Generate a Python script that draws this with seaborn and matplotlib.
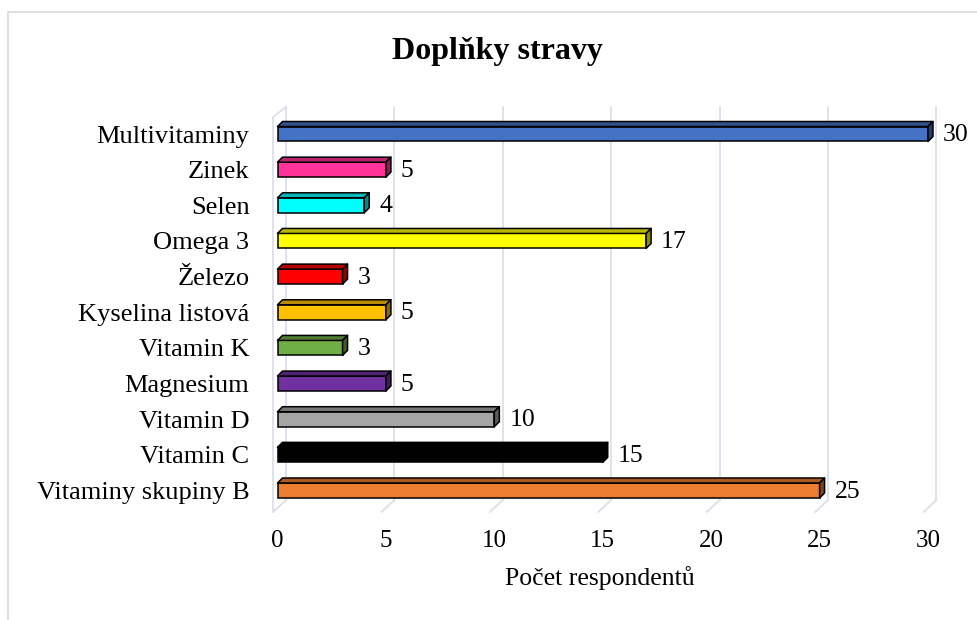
import numpy as np
import pandas as pd
import matplotlib
matplotlib.use("Agg")
import matplotlib.pyplot as plt
from matplotlib.patches import Polygon, Rectangle
from matplotlib.colors import to_rgb
import seaborn as sns

# Supplement survey data (top to bottom)
categories = ["Multivitaminy", "Zinek", "Selen", "Omega 3", "Železo",
              "Kyselina listová", "Vitamin K", "Magnesium", "Vitamin D",
              "Vitamin C", "Vitaminy skupiny B"]
values = [30, 5, 4, 17, 3, 5, 3, 5, 10, 15, 25]
colors = ["#4472C4", "#FF3399", "#00FFFF", "#FFFF00", "#FF0000",
          "#FFC000", "#70AD47", "#7030A0", "#A5A5A5", "#000000", "#ED7D31"]
x_ticks = [0, 5, 10, 15, 20, 25, 30]

sns.set_theme(style="white")
plt.rcParams["font.family"] = ["Liberation Serif", "DejaVu Serif"]
plt.rcParams["text.color"] = "black"
plt.rcParams["xtick.color"] = "black"
plt.rcParams["ytick.color"] = "black"
plt.rcParams["axes.labelcolor"] = "black"

W, H = 977, 620
fig = plt.figure(figsize=(W / 100, H / 100), dpi=100)

# axes placed in pixel terms
ax_l, ax_r, ax_t, ax_b = 273, 940, 107, 512
ax = fig.add_axes([ax_l / W, 1 - ax_b / H, (ax_r - ax_l) / W, (ax_b - ax_t) / H])

df = pd.DataFrame({"cat": categories, "val": values})
sns.barplot(data=df, x="val", y="cat", hue="cat", palette=colors, legend=False,
            orient="h", width=0.42, edgecolor="black", linewidth=1.1,
            saturation=1, ax=ax, zorder=3)

# scale: px per unit
px_x = 21.68
px_y = 35.65
x0 = -4.5 / px_x
x1 = 30 + 12 / px_x
y_top = (ax_t - 134) / px_y
y_bot = (ax_b - 134) / px_y
ax.set_xlim(x0, x1)
ax.set_ylim(y_bot, y_top)

# 3D wall / gridlines
grid_c = "#DCDFE8"
back_dx = 8.5 / px_x
front_dx = -4.5 / px_x
y_floor_back = (500 - 134) / px_y
for t in x_ticks:
    ax.plot([t + back_dx, t + back_dx], [y_top, y_floor_back], color=grid_c,
            lw=1.3, zorder=0, clip_on=False)
    ax.plot([t + back_dx, t + front_dx], [y_floor_back, y_bot], color=grid_c,
            lw=1.3, zorder=0, clip_on=False)
# left wall outline
y_wall_top = (117 - 134) / px_y
ax.plot([front_dx, front_dx], [y_wall_top, y_bot], color=grid_c, lw=1.3,
        zorder=0, clip_on=False)
ax.plot([front_dx, back_dx], [y_wall_top, y_top], color=grid_c, lw=1.3,
        zorder=0, clip_on=False)

# 3D faces on each bar
ddx = 5 / px_x
ddy = 5 / px_y


def shade(c, f):
    r, g, b = to_rgb(c)
    return (r * f, g * f, b * f)


for i, (v, c) in enumerate(zip(values, colors)):
    top = i - 0.21
    bot = i + 0.21
    top_face = [(0, top), (v, top), (v + ddx, top - ddy), (ddx, top - ddy)]
    side_face = [(v, top), (v + ddx, top - ddy), (v + ddx, bot - ddy), (v, bot)]
    ax.add_patch(Polygon(top_face, closed=True, facecolor=shade(c, 0.72),
                         edgecolor="black", lw=1.1, zorder=3, joinstyle="round"))
    ax.add_patch(Polygon(side_face, closed=True, facecolor=shade(c, 0.55),
                         edgecolor="black", lw=1.1, zorder=3, joinstyle="round"))
    ax.text(v + 15 / px_x, i + 0.03, f"{v}", ha="left", va="center",
            fontsize=18.5, color="black", clip_on=False)

for s in ax.spines.values():
    s.set_visible(False)
ax.set_xticks(x_ticks)
ax.set_xticklabels([str(t) for t in x_ticks])
ax.tick_params(axis="x", length=0, pad=13, labelsize=18, labelcolor="black")
ax.tick_params(axis="y", length=0, pad=17, labelsize=19, labelcolor="black")
ax.set_xlabel("")
ax.set_ylabel("")
ax.grid(False)

fig.text(497 / W, 1 - 52 / H, "Doplňky stravy", ha="center", va="center",
         fontsize=23, fontweight="bold", color="black")
fig.text(600 / W, 1 - 578 / H, "Počet respondentů", ha="center", va="center",
         fontsize=18.5, color="black")

# chart frame
fig.patches.append(Rectangle((8 / W, -0.2), 1.2, 1 - 12 / H + 0.2,
                             transform=fig.transFigure, fill=False,
                             edgecolor="#D9D9D9", lw=1.2))

fig.savefig("out.png", dpi=100)
